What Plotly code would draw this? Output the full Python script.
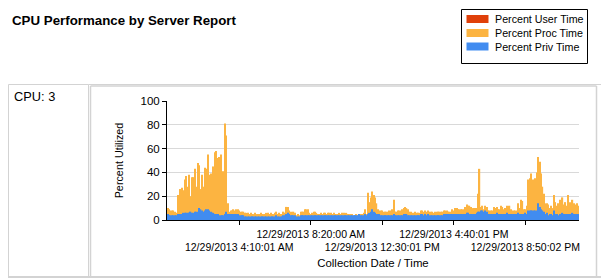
import plotly.graph_objects as go
import pandas as pd

# ---------------- data ----------------
# 288 five-minute samples on 12/29/2013
times = pd.date_range("2013-12-29 00:00:01", periods=288, freq="5min")
categories = [
    f"{t.month}/{t.day}/{t.year} {(t.hour % 12) or 12}:{t.minute:02d}:{t.second:02d} {'AM' if t.hour < 12 else 'PM'}"
    for t in times
]

# Percent Proc Time (total processor time, %)
proc_time = [
    10, 9, 8, 8, 8, 7, 6, 21, 8, 26, 27, 25, 34, 37, 28, 38, 20, 36, 36, 43,
    28, 48, 46, 26, 38, 28, 44, 43, 55, 38, 39, 30, 45, 57, 58, 52, 53, 55, 30, 41,
    81, 71, 14, 7, 8, 8, 9, 8,
    9, 9, 8, 7, 7, 7, 6, 6, 6, 5, 6, 5, 5, 6, 5, 5, 5, 6, 5, 5,
    5, 6, 6, 5, 6, 5, 5, 6, 7, 5, 6, 5, 5, 7, 6, 11, 11, 8, 7, 6,
    7, 6, 4, 5, 4, 7, 7, 7,
    9, 9, 9, 6, 5, 6, 7, 7, 6, 5, 5, 6, 5, 6, 6, 5, 6, 6, 6, 5,
    6, 5, 5, 5, 6, 5, 6, 6, 5, 6, 5, 5, 5, 5, 4, 4, 5, 4, 5, 5,
    5, 6, 9, 5, 23, 15, 19, 24, 21, 19, 14, 9,
    8, 8, 8, 7, 7, 7, 7, 8, 8, 9, 17, 7, 7, 8, 8, 8, 9, 10, 11, 10,
    9, 7, 7, 6, 6, 7, 6, 6, 6, 8, 8, 7, 8, 7, 8, 7, 7, 7, 6, 7,
    7, 7, 7, 7, 7, 8,
    8, 8, 7, 7, 7, 9, 8, 10, 10, 9, 9, 9, 9, 9, 11, 13, 12, 12, 11, 10,
    10, 10, 10, 22, 43, 11, 12, 9, 12, 11, 8, 8, 8, 8, 11, 10, 11, 9, 9, 12,
    11, 9, 10, 12, 10, 12, 9, 8, 8,
    8, 8, 14, 10, 17, 16, 9, 9, 12, 34, 35, 39, 34, 34, 35, 40, 53, 49, 39, 28,
    22, 14, 14, 13, 10, 12, 10, 21, 15, 12, 14, 17, 8, 19, 13, 15, 12, 21, 15, 14,
    17, 14, 13, 14, 12,
]

# Percent Priv Time (%)
priv_time = [
    5, 4, 4, 4, 4, 4, 4, 5, 5, 5, 5, 6, 6, 6, 6, 6, 7, 6, 6, 7,
    7, 7, 10, 9, 8, 7, 8, 9, 9, 8, 7, 6, 6, 5, 5, 5, 4, 4, 4, 4,
    5, 7, 5, 5, 5, 5, 5, 5,
    5, 5, 4, 4, 4, 4, 3, 3, 3, 3, 3, 3, 3, 3, 3, 3, 3, 3, 3, 3,
    3, 3, 3, 3, 3, 3, 3, 3, 4, 3, 3, 3, 3, 4, 4, 5, 6, 5, 4, 4,
    4, 4, 3, 3, 3, 4, 4, 4,
    4, 4, 4, 4, 4, 4, 4, 4, 4, 4, 4, 4, 4, 4, 4, 4, 4, 4, 4, 4,
    4, 4, 4, 4, 4, 4, 4, 4, 4, 4, 4, 4, 4, 4, 4, 4, 4, 4, 5, 4,
    4, 4, 5, 4, 5, 6, 7, 9, 7, 6, 5, 5,
    5, 4, 4, 4, 4, 4, 4, 4, 4, 4, 5, 4, 4, 4, 4, 4, 4, 5, 5, 5,
    4, 4, 4, 4, 4, 4, 4, 4, 4, 5, 5, 4, 5, 4, 5, 4, 4, 4, 4, 4,
    4, 4, 4, 4, 4, 5,
    5, 5, 5, 5, 5, 5, 5, 5, 5, 5, 5, 5, 5, 5, 5, 6, 6, 5, 5, 5,
    5, 5, 6, 7, 7, 8, 8, 7, 8, 7, 5, 5, 5, 5, 5, 5, 6, 5, 5, 5,
    5, 5, 5, 6, 5, 5, 5, 5, 5,
    5, 5, 6, 5, 5, 5, 5, 6, 5, 8, 8, 8, 8, 8, 8, 8, 14, 11, 9, 8,
    7, 5, 6, 4, 5, 5, 4, 8, 5, 5, 4, 5, 5, 6, 5, 5, 5, 5, 5, 5,
    6, 5, 5, 5, 5,
]

# Percent User Time (%) - not visible in the chart
user_time = [0] * 288

series_names = ["Percent User Time", "Percent Proc Time", "Percent Priv Time"]
series_colors = ["#E0400A", "#FCB441", "#418CF0"]

tick_index = [50, 100, 150, 200, 250]
tick_labels = [
    "12/29/2013 4:10:01 AM",
    "12/29/2013 8:20:00 AM",
    "12/29/2013 12:30:01 PM",
    "12/29/2013 4:40:01 PM",
    "12/29/2013 8:50:02 PM",
]

# ---------------- layout helpers ----------------
W, H = 601, 279
ML, MR, MT, MB = 167, 22, 101, 59
FONT = "Arial, 'Liberation Sans', sans-serif"


def X(px):
    return (px - ML) / (W - ML - MR)


def Y(py):
    return (H - MB - py) / (H - MT - MB)


fig = go.Figure()
for name, color, vals in zip(series_names, series_colors, [user_time, proc_time, priv_time]):
    fig.add_trace(go.Bar(x=categories, y=vals, name=name, showlegend=False,
                         marker=dict(color=color, line=dict(width=0))))

ticktext = [("<br>" + lab) if k % 2 == 0 else lab for k, lab in enumerate(tick_labels)]

border = "#D3D3D3"
shapes = [
    # left table cell
    dict(type="rect", xref="paper", yref="paper", x0=X(8.5), x1=X(88.5), y0=Y(84.5), y1=Y(276.5),
         line=dict(color=border, width=1)),
    # top line of the right cell
    dict(type="line", xref="paper", yref="paper", x0=X(88.5), x1=X(601), y0=Y(84.5), y1=Y(84.5),
         line=dict(color=border, width=1)),
    # chart frame
    dict(type="line", xref="paper", yref="paper", x0=X(90.5), x1=X(90.5), y0=Y(86), y1=Y(277),
         line=dict(color=border, width=1.5)),
    dict(type="line", xref="paper", yref="paper", x0=X(596.5), x1=X(596.5), y0=Y(86), y1=Y(277),
         line=dict(color=border, width=1.5)),
    dict(type="line", xref="paper", yref="paper", x0=X(90.5), x1=X(596.5), y0=Y(86), y1=Y(86),
         line=dict(color=border, width=1.5)),
    dict(type="line", xref="paper", yref="paper", x0=X(8), x1=X(601), y0=Y(277), y1=Y(277),
         line=dict(color=border, width=2)),
    # legend box
    dict(type="rect", xref="paper", yref="paper", x0=X(461.5), x1=X(587.5), y0=Y(9.5), y1=Y(63.5),
         line=dict(color="#000", width=1), fillcolor="white"),
]

annotations = [
    dict(text="<b>CPU Performance by Server Report</b>", xref="paper", yref="paper",
         x=X(10), y=Y(20), xanchor="left", yanchor="middle", showarrow=False,
         font=dict(family=FONT, size=13.3, color="#000")),
    dict(text="CPU: 3", xref="paper", yref="paper",
         x=X(12), y=Y(97), xanchor="left", yanchor="middle", showarrow=False,
         font=dict(family=FONT, size=12.8, color="#000")),
]

# legend entries (swatch + label)
legend_rows = [19, 33, 46.5]
for name, color, ry in zip(series_names, series_colors, legend_rows):
    shapes.append(dict(type="rect", xref="paper", yref="paper",
                       x0=X(466.5), x1=X(488.5), y0=Y(ry - 4), y1=Y(ry + 4),
                       line=dict(width=0), fillcolor=color))
    annotations.append(dict(text=name, xref="paper", yref="paper",
                            x=X(492.5), y=Y(ry), xanchor="left", yanchor="middle",
                            showarrow=False,
                            font=dict(family=FONT, size=10.7, color="#000")))

fig.update_layout(
    width=W, height=H,
    margin=dict(l=ML, r=MR, t=MT, b=MB, pad=0, autoexpand=False),
    paper_bgcolor="white", plot_bgcolor="white",
    barmode="overlay", bargap=0.12,
    font=dict(family=FONT, color="#000"),
    showlegend=False,
    xaxis=dict(
        type="category", range=[-0.5, 287.5], automargin=False,
        tickmode="array", tickvals=[categories[i] for i in tick_index], ticktext=ticktext,
        tickangle=0, ticks="outside", ticklen=4, tickcolor="#000",
        tickfont=dict(family=FONT, size=10.5, color="#000"),
        showline=True, linecolor="#000", linewidth=1, showgrid=False, zeroline=False,
        title=dict(text="Collection Date / Time", font=dict(family=FONT, size=11.4, color="#000"),
                   standoff=6),
    ),
    yaxis=dict(
        range=[0, 100], tickmode="array", tickvals=[0, 20, 40, 60, 80, 100], automargin=False,
        ticks="outside", ticklen=4, tickcolor="#000",
        tickfont=dict(family=FONT, size=11.5, color="#000"),
        showline=True, linecolor="#000", linewidth=1,
        showgrid=True, gridcolor="#D9D9D9", gridwidth=1, zeroline=False,
        title=dict(text="Percent Utilized", font=dict(family=FONT, size=10.8, color="#000"),
                   standoff=14),
    ),
    shapes=shapes,
    annotations=annotations,
)

fig.write_html("out.html")
